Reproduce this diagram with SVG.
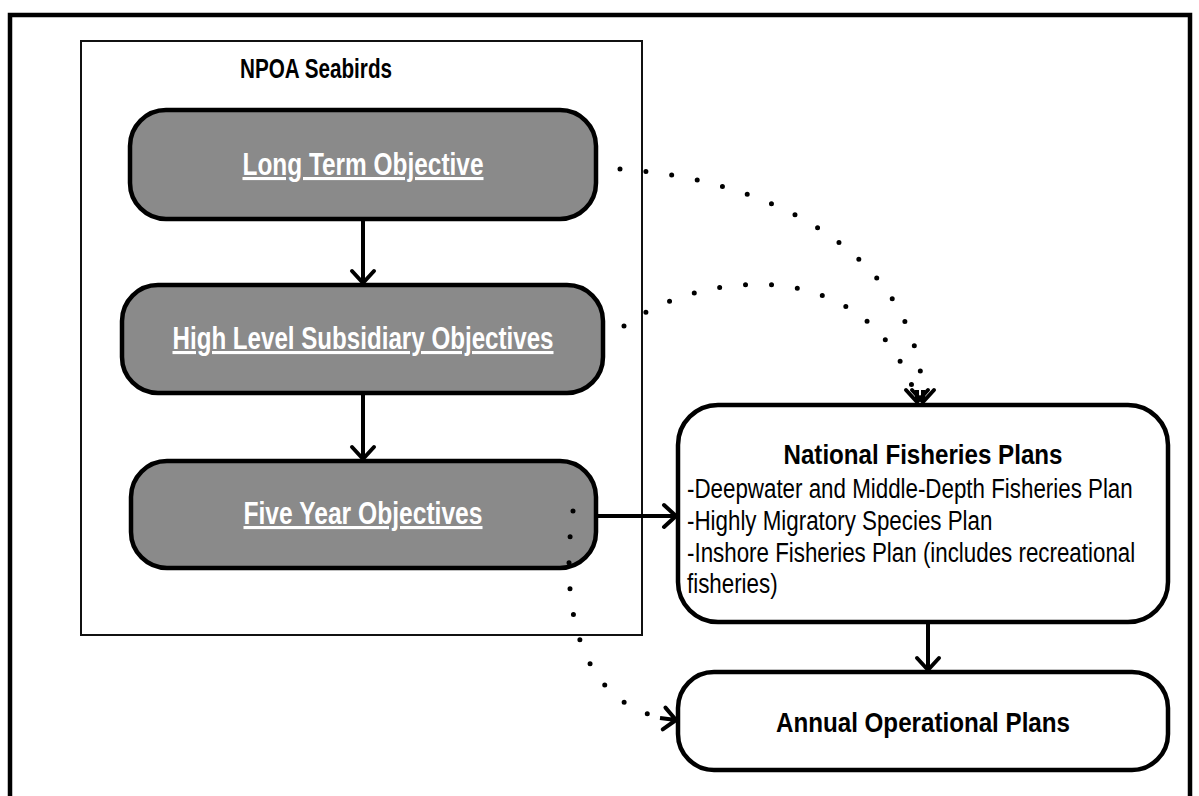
<svg xmlns="http://www.w3.org/2000/svg" width="1199" height="796" viewBox="0 0 1199 796">
<style>
.t{font-family:"Liberation Sans Narrow","Liberation Sans",Arial,sans-serif;}
.b{font-weight:bold;}
.gray{fill:#8a8a8a;stroke:#000;stroke-width:4.5;}
.white{fill:#fff;stroke:#000;stroke-width:4.5;}
.wt{fill:#fff;text-decoration:underline;}
.conn{fill:none;stroke:#000;stroke-width:4;}
.dot{fill:none;stroke:#000;stroke-width:5;stroke-linecap:round;stroke-dasharray:0 26;}
</style>
<defs>
<marker id="arr" markerUnits="userSpaceOnUse" markerWidth="30" markerHeight="30" refX="18" refY="15" orient="auto" viewBox="0 0 30 30">
<path d="M6,4 L18,15 L6,26" fill="none" stroke="#000" stroke-width="4" stroke-linecap="round" stroke-linejoin="round"/>
</marker>
</defs>
<rect x="0" y="0" width="1199" height="796" fill="#fff"/>
<rect id="frame" x="10" y="15" width="1180" height="800" fill="none" stroke="#000" stroke-width="4.5"/>
<g id="npoa">
<rect x="81" y="41" width="561" height="594" fill="none" stroke="#111" stroke-width="2"/>
<text class="t b" x="316" y="78" font-size="27" text-anchor="middle" textLength="152" lengthAdjust="spacingAndGlyphs">NPOA Seabirds</text>
</g>
<g id="long-term">
<rect class="gray" x="130" y="110" width="466" height="109" rx="36"/>
<text class="t b wt" x="363" y="175" font-size="31" text-anchor="middle" textLength="241" lengthAdjust="spacingAndGlyphs">Long Term Objective</text>
</g>
<g id="high-level">
<rect class="gray" x="122" y="285" width="481" height="108" rx="36"/>
<text class="t b wt" x="363" y="349" font-size="31" text-anchor="middle" textLength="381" lengthAdjust="spacingAndGlyphs">High Level Subsidiary Objectives</text>
</g>
<g id="five-year">
<rect class="gray" x="131" y="461" width="465" height="107" rx="36"/>
<text class="t b wt" x="363" y="524" font-size="31" text-anchor="middle" textLength="239" lengthAdjust="spacingAndGlyphs">Five Year Objectives</text>
</g>
<g id="national">
<rect class="white" x="678" y="405" width="490" height="217" rx="40"/>
<text class="t b" x="923" y="464" font-size="28" text-anchor="middle" textLength="279" lengthAdjust="spacingAndGlyphs">National Fisheries Plans</text>
<g transform="translate(687,0) scale(0.828,1)">
<text class="t" font-size="27">
<tspan x="0" y="498">-Deepwater and Middle-Depth Fisheries Plan</tspan>
<tspan x="0" y="530">-Highly Migratory Species Plan</tspan>
<tspan x="0" y="562">-Inshore Fisheries Plan (includes recreational</tspan>
<tspan x="0" y="593">fisheries)</tspan>
</text>
</g>
</g>
<g id="annual">
<rect class="white" x="678" y="672" width="490" height="98" rx="36"/>
<text class="t b" x="923" y="732" font-size="28" text-anchor="middle" textLength="294" lengthAdjust="spacingAndGlyphs">Annual Operational Plans</text>
</g>
<g id="connectors">
<line class="conn" x1="363" y1="219" x2="363" y2="283" marker-end="url(#arr)"/>
<line class="conn" x1="363" y1="393" x2="363" y2="459" marker-end="url(#arr)"/>
<line class="conn" x1="596" y1="516" x2="676" y2="516" marker-end="url(#arr)"/>
<line class="conn" x1="928" y1="622" x2="928" y2="670" marker-end="url(#arr)"/>
<path class="dot" d="M620,169 C780,180 920,260 923,400"/>
<path class="dot" d="M624,326 C700,270 870,250 917,400"/>
<path class="dot" d="M573,511 C560,600 575,710 676,720"/>
<path class="conn" d="M923,390 L923,402" marker-end="url(#arr)" stroke="none"/>
<path class="conn" d="M917,390 L917,402" marker-end="url(#arr)" stroke="none"/>
<path class="conn" d="M660,718 L676,720" marker-end="url(#arr)" stroke="none"/>
</g>
</svg>
